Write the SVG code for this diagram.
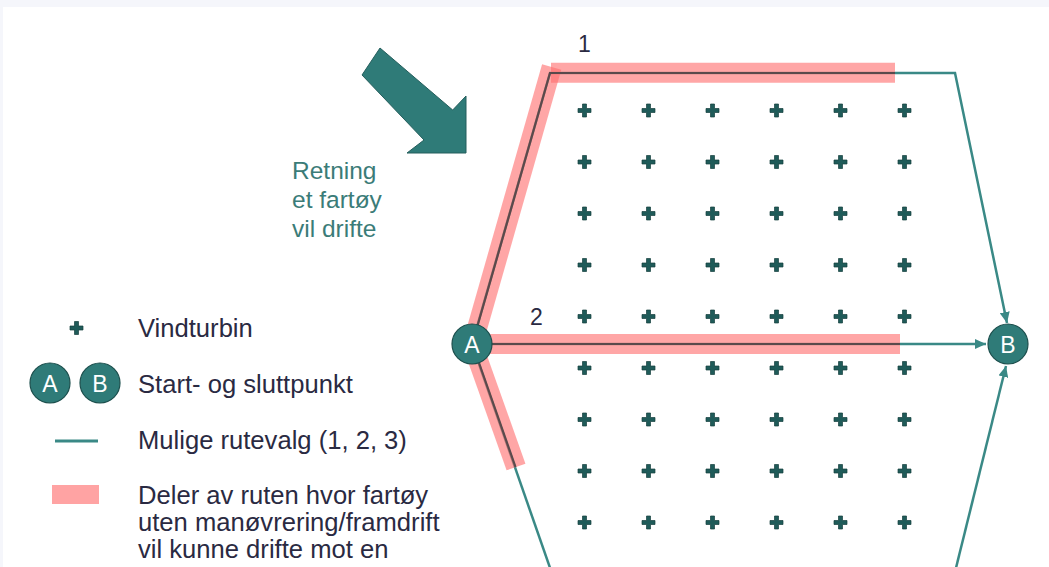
<svg xmlns="http://www.w3.org/2000/svg" width="1049" height="567" viewBox="0 0 1049 567">
<defs>
<style>
.txt{font-family:"Liberation Sans",Arial,sans-serif;font-size:25.6px;fill:#2a2a42}
.tt{font-family:"Liberation Sans",Arial,sans-serif;font-size:24.5px;fill:#3b7c78}
.num{font-family:"Liberation Sans",Arial,sans-serif;font-size:23px;fill:#2a2a42}
.lbl{font-family:"Liberation Sans",Arial,sans-serif;font-size:23px;fill:#ffffff;text-anchor:middle}
.node{fill:#2f7b78;stroke:#1d4f4d;stroke-width:1.2}
.route{fill:none;stroke:#3a8986;stroke-width:2.5}
.pink{fill:none;stroke:#ff6f6f;stroke-opacity:0.62;stroke-width:20;stroke-linecap:butt}
.dark{fill:none;stroke:#5a4a4c;stroke-width:2.2}
.plus{fill:#1f5b59;stroke:#163f3e;stroke-width:0.7}
</style>
<path id="p" class="plus" d="M-6.5,-2 h4.5 v-4.5 h4 v4.5 h4.5 v4 h-4.5 v4.5 h-4 v-4.5 h-4.5 z"/>
<marker id="ah" markerUnits="userSpaceOnUse" markerWidth="12" markerHeight="10" refX="11" refY="5" orient="auto">
<path d="M0,0 L11,5 L0,10 z" fill="#3a8986"/>
</marker>
</defs>
<rect x="0" y="0" width="1049" height="567" fill="#f5f6fb"/>
<rect x="3" y="7" width="1046" height="560" fill="#ffffff"/>

<g id="turbines">
<g id="row1"><use href="#p" x="584.5" y="110.5"/><use href="#p" x="648.5" y="110.5"/><use href="#p" x="712.5" y="110.5"/><use href="#p" x="776.5" y="110.5"/><use href="#p" x="840.5" y="110.5"/><use href="#p" x="904.5" y="110.5"/></g>
<g id="row2"><use href="#p" x="584.5" y="162"/><use href="#p" x="648.5" y="162"/><use href="#p" x="712.5" y="162"/><use href="#p" x="776.5" y="162"/><use href="#p" x="840.5" y="162"/><use href="#p" x="904.5" y="162"/></g>
<g id="row3"><use href="#p" x="584.5" y="213.5"/><use href="#p" x="648.5" y="213.5"/><use href="#p" x="712.5" y="213.5"/><use href="#p" x="776.5" y="213.5"/><use href="#p" x="840.5" y="213.5"/><use href="#p" x="904.5" y="213.5"/></g>
<g id="row4"><use href="#p" x="584.5" y="265"/><use href="#p" x="648.5" y="265"/><use href="#p" x="712.5" y="265"/><use href="#p" x="776.5" y="265"/><use href="#p" x="840.5" y="265"/><use href="#p" x="904.5" y="265"/></g>
<g id="row5"><use href="#p" x="584.5" y="316.5"/><use href="#p" x="648.5" y="316.5"/><use href="#p" x="712.5" y="316.5"/><use href="#p" x="776.5" y="316.5"/><use href="#p" x="840.5" y="316.5"/><use href="#p" x="904.5" y="316.5"/></g>
<g id="row6"><use href="#p" x="584.5" y="368"/><use href="#p" x="648.5" y="368"/><use href="#p" x="712.5" y="368"/><use href="#p" x="776.5" y="368"/><use href="#p" x="840.5" y="368"/><use href="#p" x="904.5" y="368"/></g>
<g id="row7"><use href="#p" x="584.5" y="419.5"/><use href="#p" x="648.5" y="419.5"/><use href="#p" x="712.5" y="419.5"/><use href="#p" x="776.5" y="419.5"/><use href="#p" x="840.5" y="419.5"/><use href="#p" x="904.5" y="419.5"/></g>
<g id="row8"><use href="#p" x="584.5" y="471"/><use href="#p" x="648.5" y="471"/><use href="#p" x="712.5" y="471"/><use href="#p" x="776.5" y="471"/><use href="#p" x="840.5" y="471"/><use href="#p" x="904.5" y="471"/></g>
<g id="row9"><use href="#p" x="584.5" y="522.5"/><use href="#p" x="648.5" y="522.5"/><use href="#p" x="712.5" y="522.5"/><use href="#p" x="776.5" y="522.5"/><use href="#p" x="840.5" y="522.5"/><use href="#p" x="904.5" y="522.5"/></g>
</g>

<g id="connectors">
<path class="route" d="M472,344 L550,73 L955,73 L1007,323" marker-end="url(#ah)"/>
<path class="route" d="M492,344 L986,344" marker-end="url(#ah)"/>
<path class="route" d="M472,344 L556,585"/>
<path class="route" d="M953,580 L1006,366" marker-end="url(#ah)"/>
<line class="pink" x1="476" y1="332" x2="551.7" y2="67"/>
<line class="pink" x1="551" y1="72.7" x2="895" y2="72.7"/>
<line class="pink" x1="490" y1="344" x2="900" y2="344"/>
<line class="pink" x1="478" y1="360" x2="516" y2="467"/>
<path class="dark" d="M476,331 L550,73 L895,73"/>
<path class="dark" d="M490,344 L900,344"/>
<path class="dark" d="M478,360 L515.5,467"/>
</g>

<g id="labels">
<text class="num" x="578" y="52">1</text>
<text class="num" x="530" y="325">2</text>
</g>

<g id="nodeA"><circle class="node" cx="472" cy="344" r="20"/><text class="lbl" x="472" y="352.5">A</text></g>
<g id="nodeB"><circle class="node" cx="1008" cy="344" r="20"/><text class="lbl" x="1008" y="352.5">B</text></g>

<g id="drift">
<polygon points="380,48 452.7,110 466,96 466,153 407,153 424,140 362,75" fill="#2f7b78" stroke="#245e5c" stroke-width="1"/>
<text class="tt" x="292" y="179">Retning</text>
<text class="tt" x="292" y="208">et fartøy</text>
<text class="tt" x="292" y="237">vil drifte</text>
</g>

<g id="legend">
<use href="#p" x="76.5" y="328"/>
<text class="txt" x="138" y="337">Vindturbin</text>
<circle class="node" cx="50" cy="383" r="20"/><text class="lbl" x="50" y="391.5">A</text>
<circle class="node" cx="100" cy="383" r="20"/><text class="lbl" x="100" y="391.5">B</text>
<text class="txt" x="138" y="393">Start- og sluttpunkt</text>
<line x1="55" y1="441" x2="98" y2="441" stroke="#3a8986" stroke-width="3"/>
<text class="txt" x="138" y="449">Mulige rutevalg (1, 2, 3)</text>
<rect x="52" y="485" width="47" height="19" fill="#ffa3a3"/>
<text class="txt" x="138" y="504">Deler av ruten hvor fartøy</text>
<text class="txt" x="138" y="531">uten manøvrering/framdrift</text>
<text class="txt" x="138" y="558">vil kunne drifte mot en</text>
</g>
</svg>
